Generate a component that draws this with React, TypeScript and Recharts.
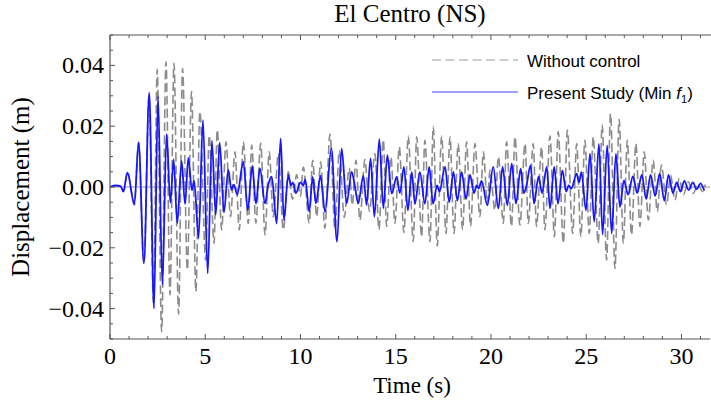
import React from 'react';
import { LineChart, Line, XAxis, YAxis, ReferenceLine } from 'recharts';

// Present Study (Min f1) — extrema (time s, displacement m)
const BLUE_T = [0, 0.3, 0.55, 0.7, 0.91, 1.28, 1.5, 1.78, 2.06, 2.31, 2.52, 2.75, 2.97, 3.17, 3.34, 3.53, 3.76, 3.94, 4.11, 4.3, 4.42, 4.65, 4.88, 5.13, 5.35, 5.55, 5.76, 5.98, 6.21, 6.38, 6.5, 6.68, 7.0, 7.23, 7.47, 7.66, 7.87, 8.14, 8.3, 8.49, 8.75, 8.96, 9.13, 9.36, 9.5, 9.6, 9.76, 10.0, 10.15, 10.25, 10.46, 10.64, 10.81, 11.05, 11.29, 11.62, 11.92, 12.16, 12.42, 12.69, 12.85, 13.03, 13.3, 13.47, 13.68, 13.88, 14.14, 14.35, 14.56, 14.79, 15.05, 15.22, 15.43, 15.64, 15.84, 16.01, 16.27, 16.53, 16.76, 16.96, 17.17, 17.3, 17.59, 17.81, 18.03, 18.24, 18.46, 18.69, 18.9, 19.11, 19.25, 19.35, 19.51, 19.81, 20.12, 20.39, 20.61, 20.86, 21.09, 21.31, 21.56, 21.72, 21.85, 22.08, 22.26, 22.5, 22.68, 22.93, 23.1, 23.32, 23.52, 23.75, 23.95, 24.08, 24.22, 24.5, 24.62, 24.75, 24.99, 25.2, 25.42, 25.67, 25.86, 26.1, 26.34, 26.56, 26.77, 26.98, 27.2, 27.45, 27.68, 27.92, 28.15, 28.38, 28.62, 28.86, 29.1, 29.32, 29.55, 29.75, 29.95, 30.15, 30.38, 30.6, 30.8, 31.0, 31.2];
const BLUE_V = [0, 0.0005, 0.0003, -0.0015, 0.0047, -0.0056, 0.0146, -0.0251, 0.031, -0.04, 0.0299, -0.0322, 0.0174, -0.0052, 0.0091, -0.0119, 0.0086, -0.0056, 0.0096, -0.001, 0.002, -0.0169, 0.022, -0.0284, 0.0152, -0.0092, 0.0146, -0.0084, 0.0056, -0.001, 0.0008, -0.0025, 0.0083, -0.0076, 0.0069, -0.0055, 0.0061, -0.0054, 0.0005, 0.0034, -0.012, 0.016, -0.0109, 0.0039, 0.0005, 0.0015, -0.002, 0.0015, 0.0005, 0.0025, -0.0081, 0.0033, -0.0054, 0.0037, -0.0082, 0.0127, -0.018, 0.0127, -0.0054, 0.005, 0.0005, -0.0054, 0.0037, -0.0059, 0.0094, -0.0098, 0.0157, -0.007, 0.0105, -0.0022, 0.0033, -0.002, 0.0066, -0.0077, 0.0049, -0.0055, 0.0049, -0.0055, 0.0066, -0.0055, 0.0005, -0.0015, 0.0066, -0.005, 0.005, -0.0045, 0.005, -0.004, 0.004, -0.002, 0.0005, -0.0005, 0.002, -0.006, 0.0066, -0.0071, 0.0066, -0.006, 0.0077, -0.0055, 0.006, -0.002, 0.0, 0.0071, -0.0055, 0.0035, -0.002, 0.0066, -0.0071, 0.0066, -0.0055, 0.0055, -0.0015, 0.0005, -0.0005, 0.0044, 0.0015, 0.0049, -0.0077, 0.011, -0.0115, 0.0142, -0.0156, 0.0137, -0.0153, 0.011, -0.0066, 0.0022, -0.0025, 0.0035, -0.002, 0.004, -0.004, 0.004, -0.003, 0.0045, -0.0045, 0.004, -0.002, 0.0015, -0.0015, 0.002, -0.001, 0.0015, -0.0008, 0.0012, -0.0012];

// Without control — extrema
const GRAY_T = [0, 0.3, 0.55, 0.72, 0.92, 1.28, 1.5, 1.78, 2.05, 2.28, 2.48, 2.71, 2.94, 3.15, 3.36, 3.6, 3.81, 4.06, 4.28, 4.51, 4.72, 5.02, 5.21, 5.46, 5.63, 5.86, 6.09, 6.33, 6.56, 6.79, 7.0, 7.26, 7.44, 7.66, 7.91, 8.14, 8.36, 8.57, 8.84, 9.1, 9.36, 9.58, 9.8, 10.0, 10.15, 10.46, 10.64, 10.85, 11.06, 11.28, 11.55, 11.81, 12.04, 12.3, 12.56, 12.72, 12.91, 13.12, 13.38, 13.62, 13.91, 14.12, 14.35, 14.52, 14.75, 14.96, 15.19, 15.43, 15.66, 15.92, 16.1, 16.36, 16.53, 16.8, 16.97, 17.18, 17.41, 17.64, 17.85, 18.06, 18.28, 18.51, 18.72, 18.93, 19.16, 19.42, 19.6, 19.81, 19.95, 20.21, 20.39, 20.65, 20.82, 21.08, 21.26, 21.52, 21.79, 21.96, 22.22, 22.39, 22.66, 22.83, 23.1, 23.33, 23.53, 23.8, 24.01, 24.29, 24.5, 24.72, 24.93, 25.16, 25.37, 25.63, 25.84, 26.07, 26.28, 26.51, 26.73, 26.95, 27.16, 27.38, 27.61, 27.82, 28.05, 28.26, 28.52, 28.73, 28.95, 29.22, 29.43, 29.66, 29.88, 30.1, 30.36, 30.62, 30.88, 31.1, 31.25];
const GRAY_V = [0, 0.0004, 0.0002, -0.0015, 0.005, -0.006, 0.0148, -0.025, 0.03, -0.038, 0.0387, -0.0476, 0.0412, -0.0355, 0.0407, -0.0418, 0.039, -0.0273, 0.0314, -0.0344, 0.0248, -0.024, 0.017, -0.0185, 0.0188, -0.0141, 0.0149, -0.0098, 0.0116, -0.0141, 0.0149, -0.012, 0.0138, -0.0119, 0.0144, -0.0158, 0.0116, -0.0098, 0.011, -0.0141, 0.005, -0.004, 0.004, -0.003, 0.0066, -0.0119, 0.0088, -0.0098, 0.0083, -0.0136, 0.0174, -0.014, 0.012, -0.01, 0.0062, -0.006, 0.0088, -0.0109, 0.009, -0.008, 0.011, -0.014, 0.0155, -0.013, 0.0099, -0.012, 0.0132, -0.015, 0.0168, -0.0179, 0.0165, -0.0164, 0.0154, -0.018, 0.0198, -0.0194, 0.0168, -0.0153, 0.0165, -0.0153, 0.0143, -0.0141, 0.0149, -0.013, 0.0143, -0.0098, 0.0116, -0.0054, 0.0056, -0.0076, 0.01, -0.012, 0.0149, -0.013, 0.0165, -0.0125, 0.0143, -0.012, 0.0143, -0.013, 0.0132, -0.0141, 0.0168, -0.0164, 0.0182, -0.0185, 0.0187, -0.0153, 0.0143, -0.0164, 0.0154, -0.0153, 0.0165, -0.0185, 0.0204, -0.024, 0.0241, -0.0268, 0.0223, -0.0185, 0.0154, -0.0158, 0.0143, -0.013, 0.0116, -0.0109, 0.0088, -0.0081, 0.0072, -0.0059, 0.0039, -0.0043, 0.0028, -0.0026, 0.0017, -0.0021, 0.0011, -0.0015, 0.0008, -0.0005];

const X_TICKS = [0, 1, 2, 3, 4, 5, 6, 7, 8, 9, 10, 11, 12, 13, 14, 15, 16, 17, 18, 19, 20, 21, 22, 23, 24, 25, 26, 27, 28, 29, 30, 31];
const X_LABELED = [0, 5, 10, 15, 20, 25, 30];
const Y_TICKS = [-0.05, -0.045, -0.04, -0.035, -0.03, -0.025, -0.02, -0.015, -0.01, -0.005, 0, 0.005, 0.01, 0.015, 0.02, 0.025, 0.03, 0.035, 0.04, 0.045, 0.05];
const Y_LABELED = [-0.04, -0.02, 0, 0.02, 0.04];

const TITLE = 'El Centro (NS)';
const X_LABEL = 'Time (s)';
const Y_LABEL = 'Displacement (m)';
const LEGEND_1 = 'Without control';
const LEGEND_2 = 'Present Study (Min ';

const blueData = BLUE_T.map((t, i) => ({ t, v: BLUE_V[i] }));
const grayData = GRAY_T.map((t, i) => ({ t, v: GRAY_V[i] }));

const SERIF = '"Liberation Serif", "Times New Roman", serif';
const SANS = '"Liberation Sans", Arial, sans-serif';
const FRAME = '#555';
const PLOT_L = 110, PLOT_T = 35, PLOT_B = 339;

const XTick = (props: any) => {
  const { x, payload } = props;
  const major = X_LABELED.includes(payload.value);
  const len = major ? 5 : 3;
  return (
    <g>
      <line x1={x} x2={x} y1={PLOT_B} y2={PLOT_B - len} stroke={FRAME} strokeWidth={1} />
      <line x1={x} x2={x} y1={PLOT_T} y2={PLOT_T + len} stroke={FRAME} strokeWidth={1} />
      {major && (
        <text x={x} y={364} textAnchor="middle" fontFamily={SERIF} fontSize={24} fill="#000">
          {payload.value}
        </text>
      )}
    </g>
  );
};

const fmtY = (v: number) => (v < 0 ? '\u2212' : '') + Math.abs(v).toFixed(2);

const YTick = (props: any) => {
  const { y, payload } = props;
  const major = Y_LABELED.includes(payload.value);
  const len = major ? 5 : 3;
  return (
    <g>
      <line x1={PLOT_L} x2={PLOT_L + len} y1={y} y2={y} stroke={FRAME} strokeWidth={1} />
      {major && (
        <text x={104} y={y + 8} textAnchor="end" fontFamily={SERIF} fontSize={24} fill="#000">
          {fmtY(payload.value)}
        </text>
      )}
    </g>
  );
};

export default function App() {
  return (
    <div style={{ position: 'absolute', left: 0, top: 0, width: 711, height: 405, background: '#fff' }}>
      <LineChart width={711} height={405} margin={{ top: 35, right: 1, bottom: 0, left: 0 }}>
        <XAxis
          dataKey="t"
          type="number"
          domain={[0, 31.5]}
          ticks={X_TICKS}
          interval={0}
          allowDataOverflow
          height={66}
          tickSize={0}
          tickMargin={0}
          tickLine={false}
          axisLine={{ stroke: FRAME, strokeWidth: 1.2 }}
          tick={<XTick />}
        />
        <YAxis
          dataKey="v"
          type="number"
          domain={[-0.05, 0.05]}
          ticks={Y_TICKS}
          interval={0}
          allowDataOverflow
          width={110}
          tickSize={0}
          tickMargin={0}
          tickLine={false}
          axisLine={{ stroke: FRAME, strokeWidth: 1.2 }}
          tick={<YTick />}
        />
        <ReferenceLine y={0} stroke="#9a9a9a" strokeWidth={1} ifOverflow="visible" />
        <Line
          data={grayData}
          dataKey="v"
          type="monotone"
          stroke="#8c8c8c"
          strokeWidth={1.6}
          strokeDasharray="9 4"
          dot={false}
          activeDot={false}
          isAnimationActive={false}
        />
        <Line
          data={blueData}
          dataKey="v"
          type="monotone"
          stroke="#1515ff"
          strokeWidth={1.8}
          dot={false}
          activeDot={false}
          isAnimationActive={false}
        />
      </LineChart>
      <svg width={711} height={405} style={{ position: 'absolute', left: 0, top: 0, pointerEvents: 'none' }}>
        <line x1={PLOT_L} x2={711} y1={PLOT_T} y2={PLOT_T} stroke={FRAME} strokeWidth={1.2} />
        <text x={410} y={22} textAnchor="middle" fontFamily={SERIF} fontSize={25} fill="#000">{TITLE}</text>
        <text x={412} y={393} textAnchor="middle" fontFamily={SERIF} fontSize={23} fill="#000">{X_LABEL}</text>
        <text
          x={0}
          y={0}
          transform="translate(29,187) rotate(-90)"
          textAnchor="middle"
          fontFamily={SERIF}
          fontSize={25}
          fill="#000"
        >
          {Y_LABEL}
        </text>
        <line x1={432} x2={518} y1={60} y2={60} stroke="#bdbdbd" strokeWidth={1.5} strokeDasharray="9 4.5" />
        <text x={527} y={66.5} fontFamily={SANS} fontSize={17} fill="#000">{LEGEND_1}</text>
        <line x1={432} x2={518} y1={92} y2={92} stroke="#8080ff" strokeWidth={1.5} />
        <text x={527} y={98.5} fontFamily={SANS} fontSize={17} fill="#000">
          {LEGEND_2}
          <tspan fontStyle="italic">f</tspan>
          <tspan dy={4} fontSize={11}>1</tspan>
          <tspan dy={-4}>)</tspan>
        </text>
      </svg>
    </div>
  );
}
